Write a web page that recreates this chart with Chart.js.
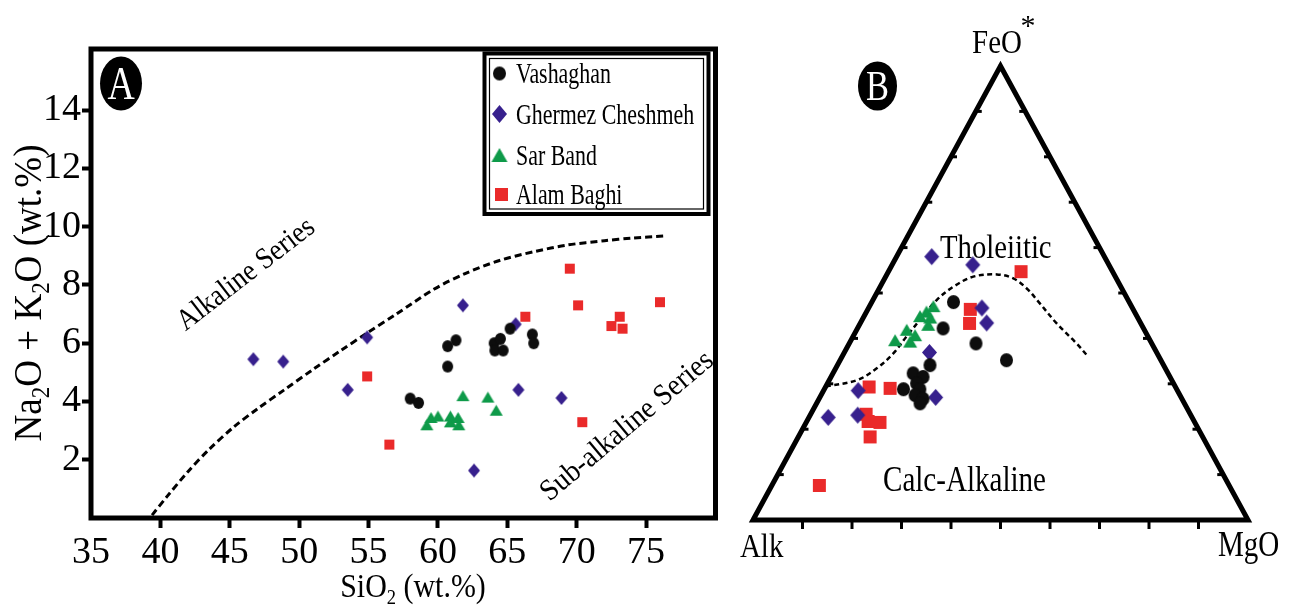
<!DOCTYPE html>
<html>
<head>
<meta charset="utf-8">
<title>TAS and AFM diagrams</title>
<script src="https://cdn.jsdelivr.net/npm/chart.js@4.4.1/dist/chart.umd.min.js"></script>
<style>
  html, body { margin: 0; padding: 0; background: #fff; overflow: hidden; }
  #wrap { position: relative; width: 1291px; height: 608px; }
  canvas { position: absolute; top: 0; }
  #tas { left: 0; }
  #afm { left: 735px; }
</style>
</head>
<body>
<div id="wrap">
  <canvas id="tas" width="735" height="608"></canvas>
  <canvas id="afm" width="556" height="608"></canvas>
</div>
<script>
// ---------- panel A : SiO2 vs Na2O+K2O ----------
const siO2Ticks = [35, 40, 45, 50, 55, 60, 65, 70, 75];
const alkaliTicks = [2, 4, 6, 8, 10, 12, 14];

const vashaghanTAS = [[58.0,4.1],[58.6,3.95],[60.7,5.2],[60.7,5.9],[61.3,6.1],[64.05,6.0],
  [64.5,6.15],[64.1,5.75],[64.7,5.75],[65.2,6.5],[66.8,6.3],[66.9,6.0]];
const ghermezTAS = [[46.7,5.45],[48.85,5.37],[53.5,4.4],[54.9,6.2],[61.8,7.3],[65.6,6.65],
  [65.8,4.4],[68.9,4.12],[62.6,1.63]];
const sarBandTAS = [[59.2,3.2],[59.5,3.45],[60.0,3.5],[60.9,3.5],[60.9,3.3],[61.45,3.45],
  [61.5,3.2],[61.8,4.2],[63.6,4.15],[64.2,3.7]];
const alamBaghiTAS = [[54.9,4.86],[56.5,2.52],[66.3,6.91],[69.5,8.56],[70.1,7.3],[70.4,3.29],
  [72.5,6.59],[73.1,6.91],[73.3,6.5],[76.0,7.41]];

// alkaline / sub-alkaline divide
const divideSiO2   = [39.4, 40.5, 42, 43.5, 45.3, 47, 48.9, 51, 53, 54.9, 57, 59.7, 62, 64.5, 67, 69.3, 72, 74, 76.3];
const divideAlkali = [0.1, 0.75, 1.6, 2.35, 3.13, 3.75, 4.39, 5.1, 5.75, 6.35, 7.0, 7.85, 8.4, 8.85, 9.15, 9.37, 9.52, 9.61, 9.68];

// ---------- panel B : AFM, rows are [Alk, FeO*, MgO] ----------
const vashaghanAFM = [[35.5,48.0,16.5],[40.5,42.2,17.3],[35.5,38.9,25.6],[31.2,35.2,33.6],[47.2,34.1,18.7],
  [51.5,32.3,16.2],[49.9,31.5,18.6],[51.9,30.1,18.0],[55.2,28.8,16.0],[51.9,28.8,19.3],
  [53.5,27.5,19.0],[52.3,26.7,21.0],[53.4,25.7,20.9]];
const ghermezAFM = [[34.9,58.0,7.1],[27.5,56.2,16.3],[30.4,46.7,22.9],[31.1,43.4,25.5],[45.9,36.9,17.2],
  [49.6,27.0,23.4],[64.5,28.5,7.0],[67.3,23.1,9.6],[73.5,22.6,3.9]];
const sarBandAFM = [[40.0,47.1,12.9],[42.0,45.9,12.1],[43.8,44.9,11.3],[41.9,44.6,13.5],[43.1,43.0,13.9],
  [48.0,41.9,10.1],[46.9,40.7,12.4],[51.5,39.6,8.9],[48.6,39.3,12.1]];
const alamBaghiAFM = [[18.5,54.7,26.8],[32.9,46.4,20.7],[34.6,43.3,22.1],[61.9,29.3,8.8],[57.8,29.0,13.2],
  [65.5,23.3,11.2],[65.9,21.7,12.4],[63.6,21.5,14.9],[67.2,18.3,14.5],[82.8,7.6,9.6]];
// tholeiitic / calc-alkaline divide
const divideAFM = [[70.6,29.4,0],[63.6,30.8,5.6],[58.3,33.4,8.3],[53.3,36.7,10.0],[48.8,40.4,10.8],
  [44.2,44.1,11.7],[38.6,48.5,12.9],[33.8,51.4,14.8],[28.7,53.6,17.7],[23.7,54.1,22.2],[20.8,53.2,26.0],
  [19.2,51.0,29.8],[18.3,48.1,33.6],[17.0,43.3,39.7],[15.2,38.9,45.9],[14.3,36.0,49.7]];
const corners = [[100,0,0],[0,100,0],[0,0,100],[100,0,0],[0,100,0]];

const groupNames = ['Vashaghan', 'Ghermez Cheshmeh', 'Sar Band', 'Alam Baghi'];
const groupColors = ['#0d0d0d', '#37208d', '#0e9a49', '#ea2a2a'];

const FONT = '"Liberation Serif", "Times New Roman", serif';

// marker bitmaps: the symbols in the figure are a bit taller than wide
function marker(shape, color, w, h) {
  const c = document.createElement('canvas');
  c.width = Math.ceil(w) + 2;
  c.height = Math.ceil(h) + 2;
  const g = c.getContext('2d');
  const cx = c.width / 2, cy = c.height / 2;
  g.fillStyle = color;
  g.beginPath();
  if (shape === 'circle') {
    g.ellipse(cx, cy, w / 2, h / 2, 0, 0, Math.PI * 2);
  } else if (shape === 'diamond') {
    g.moveTo(cx, cy - h / 2); g.lineTo(cx + w / 2, cy); g.lineTo(cx, cy + h / 2); g.lineTo(cx - w / 2, cy);
  } else if (shape === 'triangle') {
    g.moveTo(cx, cy - h / 2); g.lineTo(cx + w / 2, cy + h / 2); g.lineTo(cx - w / 2, cy + h / 2);
  } else {
    g.rect(cx - w / 2, cy - h / 2, w, h);
  }
  g.closePath();
  g.fill();
  return c;
}
const shapes = ['circle', 'diamond', 'triangle', 'square'];
const sizeA = [[11, 12], [12, 14], [13, 11], [10, 10]];
const sizeB = [[13, 14], [15, 17], [14, 12], [13, 13]];
const sizeLegend = [[13, 14], [15, 18], [16, 14], [13, 13]];
const markersA = shapes.map((s, i) => marker(s, groupColors[i], sizeA[i][0], sizeA[i][1]));
const markersB = shapes.map((s, i) => marker(s, groupColors[i], sizeB[i][0], sizeB[i][1]));
const markersLegend = shapes.map((s, i) => marker(s, groupColors[i], sizeLegend[i][0], sizeLegend[i][1]));

// text helper: condensed serif, optional subscripts (parts = [[text, isSub], ...])
function label(ctx, parts, x, y, o) {
  o = o || {};
  const size = o.size || 30, sx = o.sx || 1;
  const segs = typeof parts === 'string' ? [[parts]] : parts;
  ctx.save();
  ctx.translate(x, y);
  if (o.rot) ctx.rotate(o.rot);
  ctx.scale(sx, 1);
  ctx.fillStyle = o.color || '#000';
  ctx.textBaseline = 'alphabetic';
  ctx.textAlign = 'left';
  const fontFor = s => (s[1] ? size * 0.62 : size) + 'px ' + FONT;
  let w = 0;
  segs.forEach(s => { ctx.font = fontFor(s); w += ctx.measureText(s[0]).width; });
  let cx = o.align === 'center' ? -w / 2 : 0;
  const dy = o.vmid ? size * 0.33 : 0;
  segs.forEach(s => {
    ctx.font = fontFor(s);
    ctx.fillText(s[0], cx, dy + (s[1] ? size * 0.2 : 0));
    cx += ctx.measureText(s[0]).width;
  });
  ctx.restore();
}

function badge(ctx, letter, cx, cy, rx, ry, size) {
  ctx.save();
  ctx.fillStyle = '#000';
  ctx.beginPath();
  ctx.ellipse(cx, cy, rx, ry, 0, 0, Math.PI * 2);
  ctx.fill();
  ctx.restore();
  label(ctx, letter, cx, cy + size * 0.33, { size: size, sx: 0.82, align: 'center', color: '#fff' });
}

const pairs = arr => arr.map(p => ({ x: p[0], y: p[1] }));
// ternary -> cartesian, x = MgO + FeO/2, y = FeO (percent of the sum)
const tern = arr => arr.map(r => {
  const s = r[0] + r[1] + r[2];
  return { x: (r[2] + r[1] / 2) / s * 100, y: r[1] / s * 100 };
});

// ================= chart A =================
const tasExtras = {
  id: 'tasExtras',
  afterDraw(chart) {
    const { ctx, chartArea: a } = chart;
    ctx.save();
    ctx.strokeStyle = '#000';
    ctx.lineWidth = 5;
    ctx.strokeRect(a.left, a.top, a.right - a.left, a.bottom - a.top);

    // legend box
    ctx.lineWidth = 4;
    ctx.strokeRect(484.5, 53.5, 224, 160.5);
    ctx.lineWidth = 1.2;
    ctx.strokeRect(489.5, 58.5, 214, 150.5);
    const rows = [73.5, 114, 155, 194.5];
    groupNames.forEach((n, i) => {
      const m = markersLegend[i];
      ctx.drawImage(m, (i === 3 ? 501.5 : 499.5) - m.width / 2, rows[i] - m.height / 2);
      label(ctx, n, 516, rows[i] + 9.5, { size: 30, sx: 0.73 });
    });
    ctx.restore();

    badge(ctx, 'A', 121, 83.5, 21, 27, 46);

    label(ctx, 'Alkaline Series', 245, 273, { size: 30, sx: 0.9, align: 'center', vmid: true, rot: -37.6 * Math.PI / 180 });
    label(ctx, 'Sub-alkaline Series', 626, 425, { size: 30, sx: 0.93, align: 'center', vmid: true, rot: -40 * Math.PI / 180 });

    label(ctx, [['SiO'], ['2', 1], [' (wt.%)']], 413, 597, { size: 34, sx: 0.88, align: 'center' });
    label(ctx, [['Na'], ['2', 1], ['O + K'], ['2', 1], ['O (wt.%)']], 41, 293,
      { size: 39, sx: 0.95, align: 'center', rot: -Math.PI / 2 });
  }
};

const tasSets = [vashaghanTAS, ghermezTAS, sarBandTAS, alamBaghiTAS].map((d, i) => ({
  label: groupNames[i],
  data: pairs(d),
  pointStyle: markersA[i],
  pointRadius: 6,
  pointHoverRadius: 6,
  showLine: false,
  order: 0
}));
tasSets.push({
  label: 'divide',
  data: divideSiO2.map((x, i) => ({ x: x, y: divideAlkali[i] })),
  showLine: true,
  pointRadius: 0,
  borderColor: '#000',
  borderWidth: 3,
  borderDash: [7, 4],
  tension: 0.3,
  order: 1
});

new Chart(document.getElementById('tas'), {
  type: 'scatter',
  data: { datasets: tasSets },
  options: {
    responsive: false,
    devicePixelRatio: 1,
    animation: false,
    layout: { padding: { left: 0, right: 19.5, top: 49, bottom: 0 } },
    plugins: { legend: { display: false }, tooltip: { enabled: false } },
    scales: {
      x: {
        type: 'linear', min: 35, max: 80,
        afterBuildTicks: s => { s.ticks = siO2Ticks.map(v => ({ value: v })); },
        afterFit: s => { s.height = 90; },
        ticks: { color: '#000', font: { family: FONT, size: 38 }, padding: 2, autoSkip: false, maxRotation: 0 },
        grid: {
          drawOnChartArea: false, tickLength: 10, tickWidth: 4,
          tickColor: c => (c.tick && c.tick.value === 35 ? 'rgba(0,0,0,0)' : '#000')
        },
        border: { display: false }
      },
      y: {
        type: 'linear', min: 0, max: 16.1,
        afterBuildTicks: s => { s.ticks = alkaliTicks.map(v => ({ value: v })); },
        afterFit: s => { s.width = 91; },
        ticks: { color: '#000', font: { family: FONT, size: 38 }, padding: 1 },
        grid: { drawOnChartArea: false, tickLength: 9, tickWidth: 4, tickColor: '#000' },
        border: { display: false }
      }
    }
  },
  plugins: [tasExtras]
});

// ================= chart B =================
const afmExtras = {
  id: 'afmExtras',
  afterDraw(chart) {
    const { ctx } = chart;
    const xs = chart.scales.x, ys = chart.scales.y;
    const P = r => { const t = tern([r])[0]; return [xs.getPixelForValue(t.x), ys.getPixelForValue(t.y)]; };
    ctx.save();
    ctx.strokeStyle = '#000';
    ctx.lineWidth = 3;
    for (let i = 1; i <= 9; i++) {
      let p = P([100 - 10 * i, 0, 10 * i]);
      ctx.beginPath(); ctx.moveTo(p[0], p[1]); ctx.lineTo(p[0], p[1] + 9); ctx.stroke();
      p = P([100 - 10 * i, 10 * i, 0]);
      ctx.beginPath(); ctx.moveTo(p[0], p[1]); ctx.lineTo(p[0] + 6, p[1]); ctx.stroke();
      p = P([0, 10 * i, 100 - 10 * i]);
      ctx.beginPath(); ctx.moveTo(p[0], p[1]); ctx.lineTo(p[0] - 6, p[1]); ctx.stroke();
    }
    ctx.restore();

    badge(ctx, 'B', 142.5, 86, 19.5, 24.5, 42);
    label(ctx, 'FeO', 262, 53, { size: 34, sx: 0.85, align: 'center' });
    label(ctx, '*', 293, 35, { size: 30, align: 'center' });
    label(ctx, 'Alk', 5, 557, { size: 34, sx: 0.85 });
    label(ctx, 'MgO', 483, 556, { size: 35, sx: 0.83 });
    label(ctx, 'Tholeiitic', 205, 258, { size: 33, sx: 0.87 });
    label(ctx, 'Calc-Alkaline', 148, 491, { size: 35, sx: 0.83 });
  }
};

const afmSets = [vashaghanAFM, ghermezAFM, sarBandAFM, alamBaghiAFM].map((d, i) => ({
  label: groupNames[i],
  data: tern(d),
  pointStyle: markersB[i],
  pointRadius: 6,
  pointHoverRadius: 6,
  showLine: false,
  order: 0
}));
afmSets.push({
  label: 'divide',
  data: tern(divideAFM),
  showLine: true,
  pointRadius: 0,
  borderColor: '#000',
  borderWidth: 2.5,
  borderDash: [5, 3.5],
  tension: 0.35,
  clip: false,
  order: 1
});
afmSets.push({
  label: 'frame',
  data: tern(corners),
  showLine: true,
  pointRadius: 0,
  borderColor: '#000',
  borderWidth: 5,
  borderJoinStyle: 'miter',
  tension: 0,
  clip: false,
  order: 2
});

new Chart(document.getElementById('afm'), {
  type: 'scatter',
  data: { datasets: afmSets },
  options: {
    responsive: false,
    devicePixelRatio: 1,
    animation: false,
    layout: { padding: { left: 18, right: 43, top: 66, bottom: 88 } },
    plugins: { legend: { display: false }, tooltip: { enabled: false } },
    scales: {
      x: { type: 'linear', min: 0, max: 100, display: false },
      y: { type: 'linear', min: 0, max: 100, display: false }
    }
  },
  plugins: [afmExtras]
});
</script>
</body>
</html>
